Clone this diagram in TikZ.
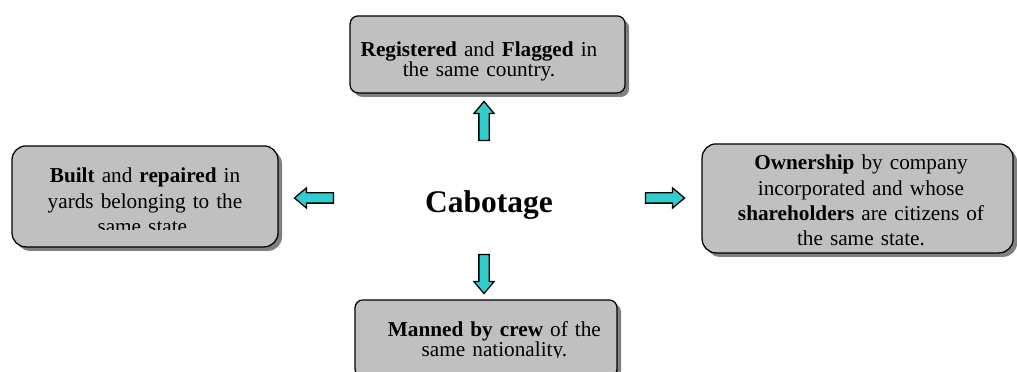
\documentclass[tikz,border=0pt]{standalone}
\usepackage{fontspec}
\setmainfont{Liberation Serif}
\usetikzlibrary{shapes.arrows,shadows}
\definecolor{arrcyan}{RGB}{51,204,204}
\definecolor{boxgray}{RGB}{192,192,192}
\tikzset{
  arr/.style={single arrow,draw=black,line width=0.9pt,fill=arrcyan,
    inner xsep=0pt,inner ysep=1.125mm,
    minimum height=9.75mm,single arrow head extend=1.25mm,
    single arrow tip angle=80},
}
\begin{document}
\begin{tikzpicture}[
   box/.style={draw=black,line width=0.9pt,fill=boxgray,inner sep=0pt,
     drop shadow={shadow xshift=1mm,shadow yshift=-1mm,fill=black!50,opacity=1}},
   txt/.style={align=center,inner sep=0pt,anchor=base},
   tight/.style={font=\fontsize{15.1}{14.2}\selectfont},
   loose/.style={font=\fontsize{15.1}{17.8}\selectfont}]
  \useasboundingbox (0,0) rectangle (25.425,9.3);
  \node[box,rounded corners=2mm,minimum width=68.75mm,minimum height=19.25mm] (reg) at (12.19,7.94) {};
  \node[box,rounded corners=3.5mm,minimum width=66.5mm,minimum height=25.25mm] (blt) at (3.625,4.39) {};
  \node[box,rounded corners=3.5mm,minimum width=77.75mm,minimum height=27.25mm] (own) at (21.44,4.34) {};
  \node[box,rounded corners=2mm,minimum width=65.5mm,minimum height=19.25mm] (man) at (12.15,0.84) {};
  \node[txt,tight,text width=62mm] (regtxt) at (11.975,7.8825) {\textbf{Registered} and \textbf{Flagged} in\\ the same country.};
  \begin{scope}
    \clip (0,3.55) rectangle (8,9.3);
    \node[txt,loose,text width=62mm] (blttxt) at (3.625,4.725) {\textbf{Built} and \textbf{repaired} in\\ yards belonging to the\\ same state.};
  \end{scope}
  \node[txt,loose,text width=74mm] (owntxt) at (21.525,5.05) {\textbf{Ownership} by company\\ incorporated and whose\\ \textbf{shareholders} are citizens of\\ the same state.};
  \begin{scope}
    \clip (8,0.35) rectangle (17,9.3);
    \node[txt,tight,text width=62mm] (mantxt) at (12.36,0.8825) {\textbf{Manned by crew} of the\\ same nationality.};
  \end{scope}
  \node[font=\fontsize{22.4}{26}\selectfont\bfseries,anchor=base,inner sep=0pt] (cab) at (12.225,3.975) {Cabotage};
  \node[arr,rotate=90] (aup) at (12.1,6.2) {};
  \node[arr,rotate=-90] (adown) at (12.1,2.525) {};
  \node[arr,rotate=180] (aleft) at (7.925,4.35) {};
  \node[arr] (aright) at (16.55,4.35) {};
\end{tikzpicture}
\end{document}
